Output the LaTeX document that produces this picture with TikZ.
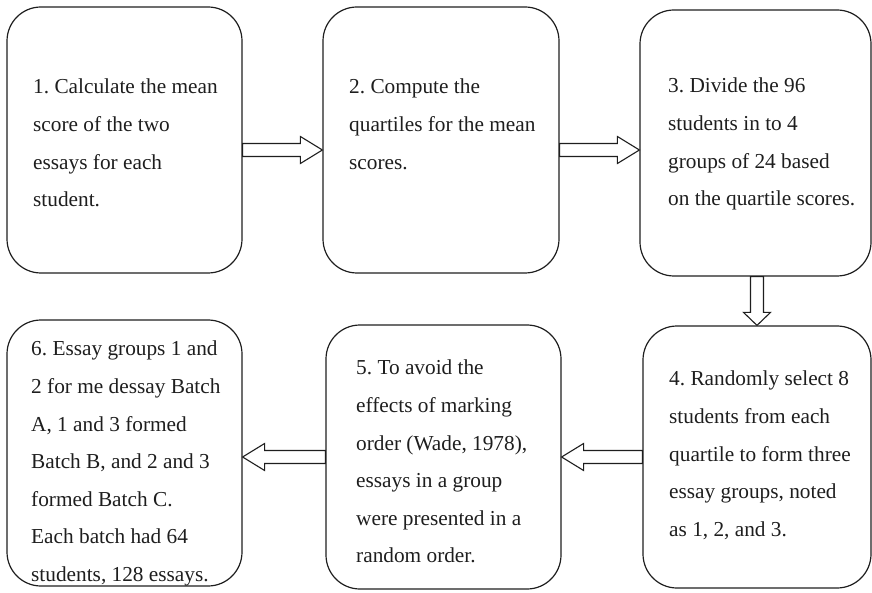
\documentclass[tikz,border=0pt]{standalone}
\usepackage{fontspec}
\setmainfont{Liberation Serif}
\usepackage{tikz}
\usetikzlibrary{calc}
\definecolor{inkgray}{HTML}{1E1E1E}
\frenchspacing

\begin{document}
\begin{tikzpicture}[x=1pt, y=-1pt,
  box/.style={draw=inkgray, rounded corners=34pt, line width=1.2pt, inner sep=0pt},
  txt/.style={font=\fontsize{21.3}{37.6}\selectfont\color{inkgray}, align=left, inner sep=0pt, anchor=north west},
  fatarrow/.style={draw=inkgray, fill=white, line width=1.1pt, to path={
    ($(\tikztotarget)!#1pt!(\tikztostart)$) coordinate (ah)
    ($(\tikztostart)!6.5pt!90:(\tikztotarget)$) -- ($(ah)!6.5pt!-90:(\tikztostart)$)
    -- ($(ah)!13.5pt!-90:(\tikztostart)$) -- (\tikztotarget)
    -- ($(ah)!13.5pt!90:(\tikztostart)$) -- ($(ah)!6.5pt!90:(\tikztostart)$)
    -- ($(\tikztostart)!6.5pt!-90:(\tikztotarget)$) -- cycle}},
  fatarrow/.default=22,
]
\useasboundingbox (0,0) rectangle (872,593);

\foreach \n/\cx/\cy/\w/\h in {1/124.5/140/235/266, 2/441/140/236/266, 3/755.5/143/231/266,
  4/757/457/228/262, 5/443.5/457/235/264, 6/124.5/453/235/266} {
  \node[box, minimum width=\w pt, minimum height=\h pt] (b\n) at (\cx,\cy) {};
}

\node[txt] (t1) at (33,79) {1. Calculate the mean\\score of the two\\essays for each\\student.};
\node[txt] (t2) at (349,79) {2. Compute the\\quartiles for the mean\\scores.};
\node[txt] (t3) at (668,78) {3. Divide the 96\\students in to 4\\groups of 24 based\\on the quartile scores.};
\node[txt] (t4) at (669,371) {4. Randomly select 8\\students from each\\quartile to form three\\essay groups, noted\\as 1, 2, and 3.};
\node[txt] (t5) at (356,360) {5. To avoid the\\effects of marking\\order (Wade, 1978),\\essays in a group\\were presented in a\\random order.};
\node[txt] (t6) at (31,341) {6. Essay groups 1 and\\2 for me dessay Batch\\A, 1 and 3 formed\\Batch B, and 2 and 3\\formed Batch C.\\Each batch had 64\\students, 128 essays.};

\draw[fatarrow] ($(b1.east)+(0,10)$) to ($(b2.west)+(0,10)$);
\draw[fatarrow] ($(b2.east)+(0,10)$) to ($(b3.west)+(0,7)$);
\draw[fatarrow=13] ($(b3.south)+(1.5,0)$) to (b4.north);
\draw[fatarrow] (b4.west) to (b5.east);
\draw[fatarrow] (b5.west) to ($(b6.east)+(0,4)$);
\end{tikzpicture}
\end{document}
